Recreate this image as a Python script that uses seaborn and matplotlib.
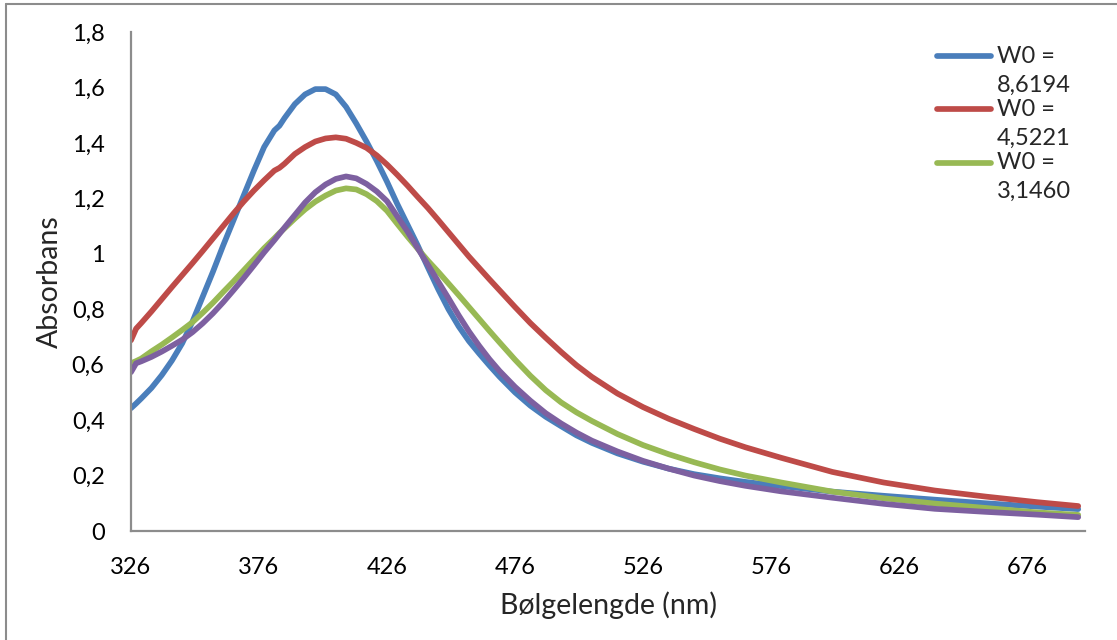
import numpy as np
import pandas as pd
import matplotlib
matplotlib.use("Agg")
import matplotlib.pyplot as plt
import seaborn as sns
from matplotlib.lines import Line2D
from matplotlib.legend_handler import HandlerLine2D

# ---- data ----
wavelength = [326, 328, 330, 334, 338, 342, 346, 350, 354, 358, 362, 366, 370, 374, 378, 382,
              384, 386, 390, 394, 398, 402, 406, 410, 414, 418, 422, 426, 430, 434, 438, 442,
              446, 450, 454, 458, 462, 466, 470, 476, 482, 488, 494, 500, 506, 516, 526, 536,
              546, 556, 566, 580, 600, 620, 640, 660, 680, 696]

w0_86194 = [0.443, 0.46, 0.478, 0.516, 0.562, 0.615, 0.677, 0.755, 0.845, 0.935, 1.03, 1.12,
            1.21, 1.30, 1.385, 1.445, 1.462, 1.49, 1.54, 1.575, 1.594, 1.594, 1.575, 1.53,
            1.47, 1.405, 1.335, 1.26, 1.18, 1.105, 1.03, 0.95, 0.872, 0.80, 0.738, 0.685,
            0.64, 0.597, 0.556, 0.50, 0.452, 0.412, 0.378, 0.345, 0.318, 0.28, 0.25, 0.225,
            0.205, 0.19, 0.177, 0.162, 0.142, 0.127, 0.113, 0.10, 0.088, 0.079]

w0_45221 = [0.688, 0.73, 0.75, 0.792, 0.836, 0.88, 0.923, 0.966, 1.01, 1.055, 1.10, 1.145,
            1.188, 1.228, 1.265, 1.30, 1.31, 1.325, 1.36, 1.385, 1.405, 1.416, 1.42, 1.415,
            1.40, 1.382, 1.355, 1.322, 1.285, 1.246, 1.205, 1.165, 1.122, 1.078, 1.034, 0.99,
            0.949, 0.908, 0.868, 0.808, 0.75, 0.697, 0.646, 0.598, 0.556, 0.496, 0.447, 0.405,
            0.368, 0.333, 0.302, 0.264, 0.213, 0.175, 0.146, 0.124, 0.104, 0.09]

w0_31460 = [0.605, 0.613, 0.622, 0.648, 0.672, 0.698, 0.725, 0.753, 0.787, 0.823, 0.862, 0.90,
            0.94, 0.98, 1.02, 1.056, 1.075, 1.092, 1.127, 1.16, 1.188, 1.21, 1.228, 1.236,
            1.232, 1.215, 1.19, 1.155, 1.108, 1.062, 1.018, 0.975, 0.935, 0.893, 0.851, 0.808,
            0.765, 0.722, 0.68, 0.618, 0.56, 0.508, 0.464, 0.428, 0.397, 0.35, 0.31, 0.277,
            0.248, 0.222, 0.20, 0.175, 0.142, 0.118, 0.099, 0.083, 0.067, 0.058]

series4 = [0.573, 0.605, 0.612, 0.628, 0.647, 0.668, 0.69, 0.717, 0.749, 0.785, 0.825, 0.868,
           0.912, 0.958, 1.005, 1.049, 1.072, 1.095, 1.14, 1.185, 1.222, 1.25, 1.27, 1.279,
           1.272, 1.252, 1.225, 1.19, 1.135, 1.08, 1.02, 0.96, 0.90, 0.84, 0.778, 0.72,
           0.668, 0.62, 0.577, 0.52, 0.47, 0.425, 0.388, 0.355, 0.326, 0.287, 0.253, 0.225,
           0.20, 0.18, 0.163, 0.143, 0.12, 0.098, 0.08, 0.069, 0.059, 0.05]

series_names = ["W0 =\n8,6194", "W0 =\n4,5221", "W0 =\n3,1460", "Serie4"]
colors = ["#4A7EBB", "#BE4B48", "#98B954", "#7D60A0"]
x_ticks = [326, 376, 426, 476, 526, 576, 626, 676]
y_ticks = [0, 0.2, 0.4, 0.6, 0.8, 1.0, 1.2, 1.4, 1.6, 1.8]
y_tick_labels = ["0", "0,2", "0,4", "0,6", "0,8", "1", "1,2", "1,4", "1,6", "1,8"]

df = pd.concat([
    pd.DataFrame({"nm": wavelength, "abs": vals, "serie": name})
    for name, vals in zip(series_names, [w0_86194, w0_45221, w0_31460, series4])
], ignore_index=True)

# ---- style ----
sns.set_theme(style="white")
plt.rcParams["font.family"] = ["Lato", "DejaVu Sans"]

fig = plt.figure(figsize=(11.17, 6.40), dpi=100)
ax = fig.add_axes([131/1117, (640-531)/640, (1085-131)/1117, (531-32)/640])

sns.lineplot(data=df, x="nm", y="abs", hue="serie", hue_order=series_names,
             palette=colors, sort=False, legend=False, ax=ax, linewidth=4.1,
             solid_capstyle="round", solid_joinstyle="round")

ax.set_xlim(326, 326 + (1085-131)/2.56)
ax.set_ylim(0, 1.8)
ax.set_xticks(x_ticks)
ax.set_xticklabels([str(t) for t in x_ticks])
ax.set_yticks(y_ticks)
ax.set_yticklabels(y_tick_labels)
ax.tick_params(axis="both", length=0, labelsize=17, colors="black")
ax.tick_params(axis="y", pad=19)
ax.tick_params(axis="x", pad=19)

for s in ["top", "right"]:
    ax.spines[s].set_visible(False)
for s in ["left", "bottom"]:
    ax.spines[s].set_color("#8C8C8C")
    ax.spines[s].set_linewidth(1.6)

ax.set_xlabel("Bølgelengde (nm)", fontsize=20.5, va="center")
ax.set_ylabel("Absorbans", fontsize=20.5, va="center")
ax.xaxis.set_label_coords(0.5, (531-605)/499)
ax.yaxis.set_label_coords((50-131)/954, 0.5)


class TopHandler(HandlerLine2D):
    def create_artists(self, legend, orig_handle, xdescent, ydescent, width, height,
                       fontsize, trans):
        arts = super().create_artists(legend, orig_handle, xdescent, ydescent, width,
                                      height, fontsize, trans)
        for a in arts:
            a.set_ydata(np.asarray(a.get_ydata()) + 0.62 * fontsize)
        return arts


handles = [Line2D([], [], color=c, lw=4.1, solid_capstyle="round") for c in colors[:3]]
leg = ax.legend(handles, series_names[:3], loc="upper left",
                bbox_to_anchor=(925/1117, 1 - 34/640), bbox_transform=fig.transFigure,
                frameon=False, fontsize=17, handlelength=2.3, handletextpad=0.25,
                labelspacing=0.15, borderpad=0.0,
                handler_map={Line2D: TopHandler()})
for t in leg.get_texts():
    t.set_linespacing(1.45)

# outer chart frame (left and top visible)
fig.add_artist(Line2D([6/1117, 6/1117], [0, 1 - 4/640], transform=fig.transFigure,
                      color="#8C8C8C", lw=1.5))
fig.add_artist(Line2D([6/1117, 1], [1 - 4/640, 1 - 4/640], transform=fig.transFigure,
                      color="#8C8C8C", lw=1.5))

fig.savefig("out.png", dpi=100)
